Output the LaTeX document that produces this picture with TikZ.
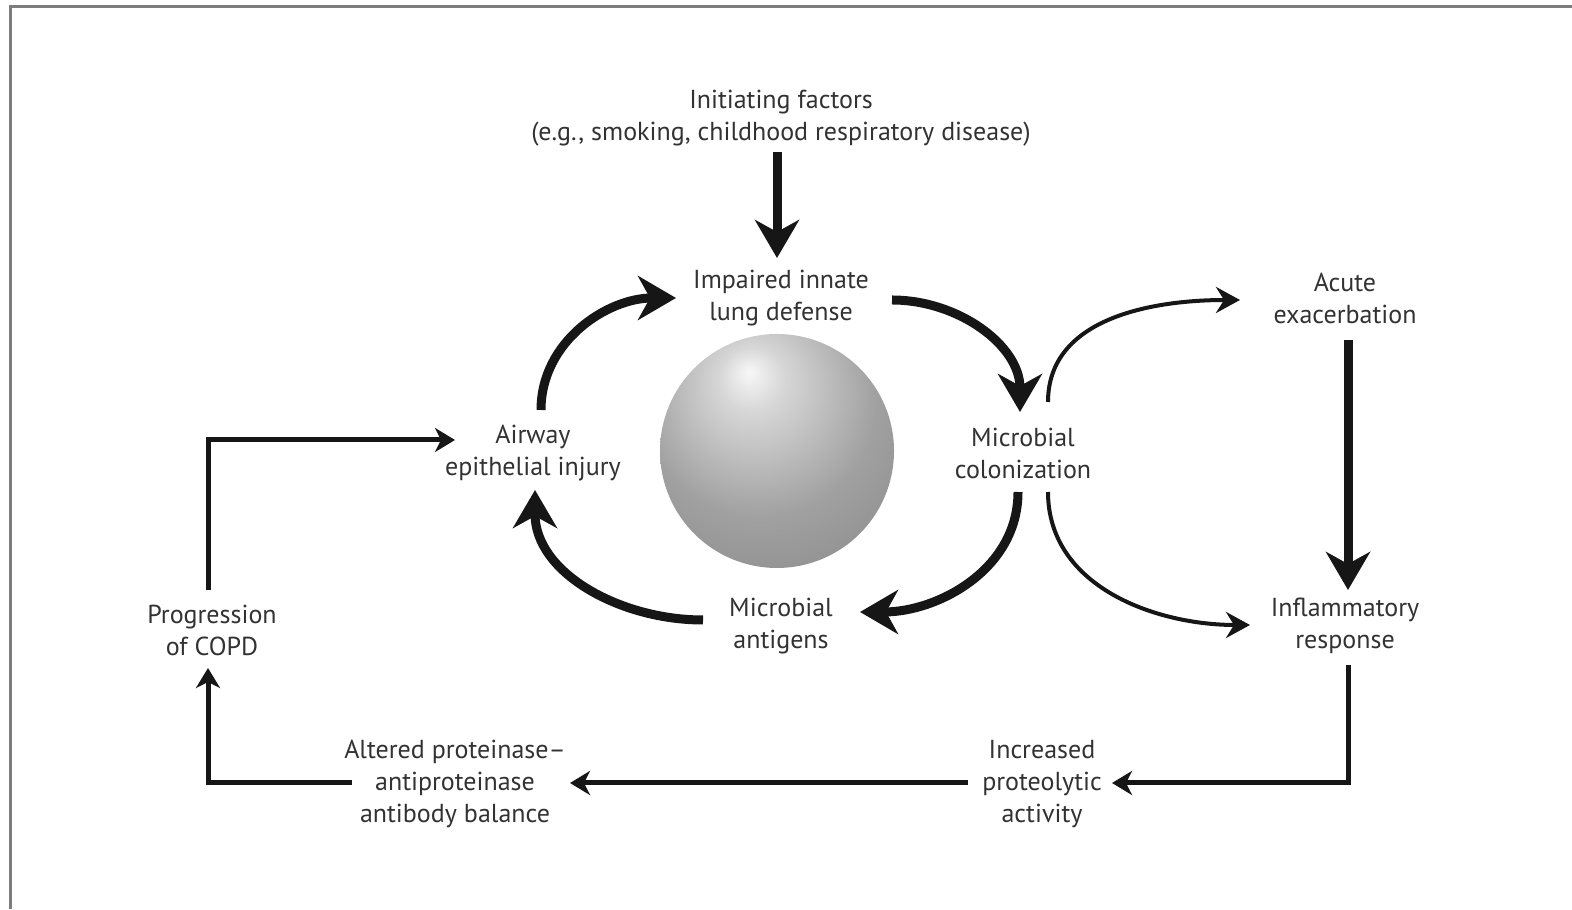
\documentclass[tikz,border=0pt]{standalone}
\usepackage{fontspec}
\setmainfont{PT Sans}
\usetikzlibrary{arrows.meta,calc}
\definecolor{textgray}{RGB}{50,50,50}
\definecolor{framegray}{RGB}{125,125,125}
\definecolor{arrowblack}{RGB}{22,22,22}
\pgfdeclareradialshading{sphere}{\pgfpoint{-6bp}{17bp}}{%
  color(0bp)=(black!3); color(7bp)=(black!16); color(25bp)=(black!37);
  color(50bp)=(black!50); color(70bp)=(black!57)}

\begin{document}
\begin{tikzpicture}[x=0.5pt,y=0.5pt,
    txt/.style={align=center,inner sep=0pt,text=textgray,
      font=\fontsize{13}{16}\selectfont},
    bigarrow/.style={arrowblack,line width=4.5pt,
      -{Stealth[length=19pt,width=22pt,inset=6pt]}},
    thinarrow/.style={arrowblack,line width=2pt,
      -{Stealth[length=12pt,width=13pt,inset=4pt]}},
    boxarrow/.style={arrowblack,line width=2.5pt,
      -{Stealth[length=10pt,width=12pt,inset=3pt]}}]
  \useasboundingbox (0,0) rectangle (1572,909);
  % frame
  \draw[framegray,line width=1.5pt] (10.5,0) -- (10.5,902.5) -- (1572,902.5);
  % sphere
  \shade[shading=sphere] (777,458) circle (117);

  \node[txt] (init) at (781,791)
    {Initiating factors\\(e.g., smoking, childhood respiratory disease)};
  \node[txt] (impaired) at (781,611) {Impaired innate\\lung defense};
  \node[txt] (airway) at (533,456) {Airway\\epithelial injury};
  \node[txt] (colon) at (1023,456) {Microbial\\colonization};
  \node[txt] (antigens) at (781,283) {Microbial\\antigens};
  \node[txt] (acute) at (1345,611) {Acute\\exacerbation};
  \node[txt] (inflam) at (1345,283) {Inflammatory\\response};
  \node[txt] (copd) at (212,279) {Progression\\of COPD};
  \node[txt] (altered) at (455,125)
    {Altered proteinase--\\antiproteinase\\antibody balance};
  \node[txt] (proteo) at (1042,125) {Increased\\proteolytic\\activity};

  % inner cycle
  \draw[bigarrow] ($(init)+(-4,-34)$) -- ($(impaired)+(-4,40)$);
  \draw[bigarrow] ($(airway)+(8,43)$) to[out=90,in=180] ($(impaired)+(-105,0)$);
  \draw[bigarrow] ($(impaired)+(111,-2)$) to[out=0,in=90] ($(colon)+(-3,41)$);
  \draw[bigarrow] ($(colon)+(-5,-39)$) to[out=-90,in=0] ($(antigens)+(79,14)$);
  \draw[bigarrow] ($(antigens)+(-78,6)$) to[out=180,in=-90] ($(airway)+(2,-37)$);
  % right branch
  \draw[thinarrow] ($(colon)+(25,51)$) to[out=90,in=180] ($(acute)+(-105,-2)$);
  \draw[thinarrow] ($(colon)+(25,-39)$) to[out=-90,in=180] ($(inflam)+(-95,1)$);
  \draw[bigarrow] ($(acute)+(3,-42)$) -- ($(inflam)+(3,36)$);
  % outer loop
  \draw[boxarrow] ($(inflam)+(3,-39)$) |- ($(proteo)+(70,1)$);
  \draw[boxarrow] ($(proteo)+(-74,1)$) -- ($(altered)+(115,1)$);
  \draw[boxarrow] ($(altered)+(-103,1)$) -| ($(copd)+(-4,-38)$);
  \draw[boxarrow] ($(copd)+(-4,40)$) |- ($(airway)+(-78,13)$);
\end{tikzpicture}
\end{document}
